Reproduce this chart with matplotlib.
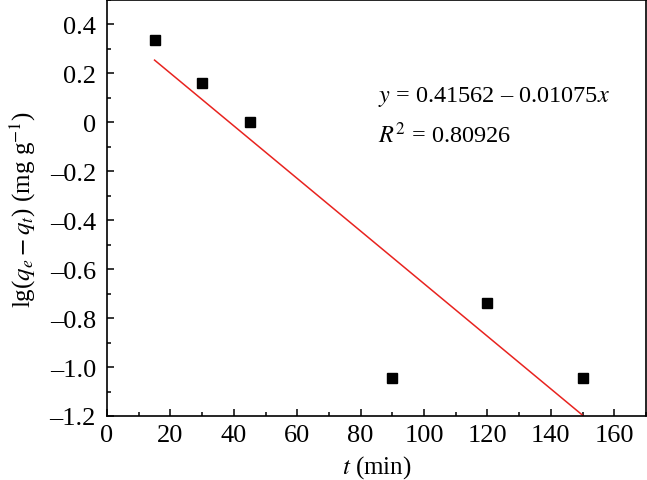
import matplotlib
matplotlib.use("Agg")
import matplotlib.pyplot as plt
import numpy as np
from matplotlib.ticker import MultipleLocator

plt.rcParams['font.family'] = ['Liberation Serif', 'DejaVu Serif']
plt.rcParams['mathtext.fontset'] = 'stix'

t = [15, 30, 45, 90, 120, 150]
lg_q = [0.335, 0.16, 0.0, -1.045, -0.74, -1.045]
intercept = 0.41562
slope = -0.01075
fit_x = [15, 150]

fig = plt.figure(figsize=(6.47, 4.81), dpi=100)
ax = fig.add_axes([107/647, 64/481, 539/647, 416/481])

fx = np.array(fit_x, dtype=float)
ax.plot(fx, intercept + slope * fx, color='#e8231f', lw=1.1, zorder=2)
ax.plot(t, lg_q, 's', color='black', markersize=6.8, zorder=3)

ax.set_xlim(0, 170)
ax.set_ylim(-1.2, 0.5)
ax.xaxis.set_major_locator(MultipleLocator(20))
ax.xaxis.set_minor_locator(MultipleLocator(10))
ax.yaxis.set_minor_locator(MultipleLocator(0.1))

def yfmt(v, pos):
    if abs(v) < 1e-9:
        return '0'
    s = f'{v:.1f}'
    return s.replace('-', '\u2013')
ax.set_yticks([-1.2, -1.0, -0.8, -0.6, -0.4, -0.2, 0, 0.2, 0.4])
ax.yaxis.set_major_formatter(plt.FuncFormatter(yfmt))

ax.tick_params(which='both', direction='in', top=False, right=False, labelsize=19, width=1.1)
ax.tick_params(which='major', length=5)
ax.tick_params(axis='y', which='major', pad=8)
ax.tick_params(axis='x', which='major', pad=6)
ax.tick_params(which='minor', length=3)
for s in ax.spines.values():
    s.set_linewidth(1.2)

ax.set_xlabel(r'$t$ (min)', fontsize=18, labelpad=5)
ax.set_ylabel(r'lg($q_e - q_t$) (mg g$^{-1}$)', fontsize=18, labelpad=8)

ax.text(85.5, 0.108, r'$y$ = 0.41562 – 0.01075$x$', fontsize=17.5, va='center', ha='left')
ax.text(85.5, -0.05, r'$R^2$ = 0.80926', fontsize=17.5, va='center', ha='left')

fig.savefig('out.png', dpi=100)
